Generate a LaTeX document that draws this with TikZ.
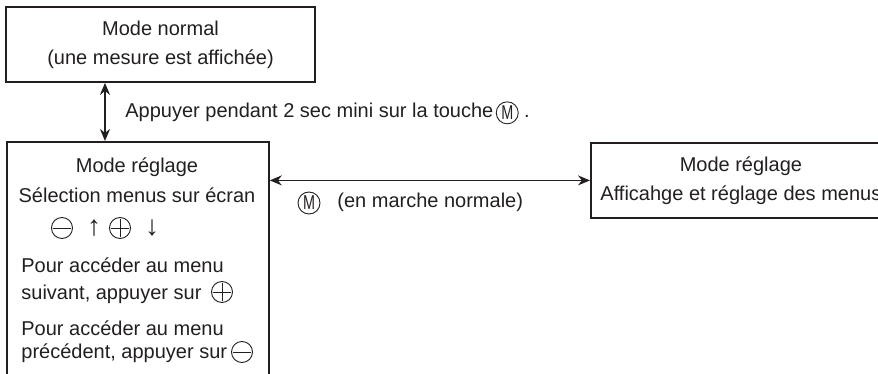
\documentclass[tikz,border=0pt]{standalone}
\usepackage{fontspec}
\setmainfont{Liberation Sans}
\usetikzlibrary{positioning, arrows.meta}
\definecolor{encre}{HTML}{231F20}
\newcommand{\lettreM}{\scalebox{0.72}[1]{M}}
\tikzset{
  boite/.style={draw=encre, line width=0.9pt, rectangle, inner sep=0pt},
  texte/.style={inner sep=0pt, text=encre, font=\fontsize{10}{14.5}\selectfont},
  fl/.style={texte, font=\fontsize{14}{14}\selectfont},
  touche/.style={draw=encre, circle, line width=0.45pt, minimum size=11pt, inner sep=0pt,
    text=encre, font=\fontsize{10}{10}\selectfont},
  touchemoins/.style={touche, minimum size=10.5pt, path picture={
    \draw[encre, line width=0.45pt] ([xshift=-4.6pt]path picture bounding box.center) -- ([xshift=4.6pt]path picture bounding box.center);}},
  toucheplus/.style={touche, minimum size=10.5pt, path picture={
    \draw[encre, line width=0.45pt] ([xshift=-4.6pt]path picture bounding box.center) -- ([xshift=4.6pt]path picture bounding box.center);
    \draw[encre, line width=0.45pt] ([yshift=-4.6pt]path picture bounding box.center) -- ([yshift=4.6pt]path picture bounding box.center);}},
  fleche/.style={draw=encre, line width=0.75pt, {Stealth[length=6pt,width=5pt]}-{Stealth[length=6pt,width=5pt]}}
}

\begin{document}
\begin{tikzpicture}[x=0.5pt, y=-0.5pt]
  \useasboundingbox (0,0) rectangle (878,374);
  \clip (0,0) rectangle (878,374);

  % les trois cadres
  \node[boite, texte, align=center, minimum width=154.5pt, minimum height=37.5pt] (normal) at (160.5,44.5)
    {Mode normal\\(une mesure est affichée)};
  \node[boite, anchor=north west, minimum width=131pt, minimum height=140pt] (reglage) at (6,141) {};
  \node[boite, texte, align=center, anchor=north west, minimum width=150pt, minimum height=37.5pt] (menus) at (590,142)
    {Mode réglage\\Afficahge et réglage des menus};

  % passage normal <-> reglage
  \coordinate (av) at (105,0);
  \draw[fleche] (normal.south -| av) -- (reglage.north -| av);
  \node[texte, anchor=base west] (appui) at (125,118) {Appuyer pendant 2 sec mini sur la touche};
  \node[touche, right=1pt of appui] (cleA) {\lettreM};
  \node[texte, anchor=base west, xshift=2.5pt] (point) at (cleA.east |- appui.base) {.};

  % passage reglage <-> menus
  \draw[fleche] (reglage.east |- menus.west) -- (menus.west);
  \node[touche] (cleB) at (309,203) {\lettreM};
  \node[texte, anchor=base west] (marche) at (337,207) {(en marche normale)};

  % contenu du cadre reglage
  \node[texte, anchor=base] (titre) at (137,172) {Mode réglage};
  \node[texte, anchor=base] (selection) at (137,202) {Sélection menus sur écran};
  \node[touchemoins] (moins1) at (62,228) {};
  \node[fl] (haut) at (94,228) {↑};
  \node[toucheplus] (plus1) at (120,228) {};
  \node[fl] (bas) at (152,228) {↓};
  \node[texte, anchor=base west] (suiv1) at (21,272) {Pour accéder au menu};
  \node[texte, anchor=base west] (suiv2) at (21,299) {suivant, appuyer sur};
  \node[toucheplus] (plus2) at (222,292) {};
  \node[texte, anchor=base west] (prec1) at (21,335) {Pour accéder au menu};
  \node[texte, anchor=base west] (prec2) at (21,358) {précédent, appuyer sur};
  \node[touchemoins] (moins2) at (242,352) {};
\end{tikzpicture}
\end{document}
